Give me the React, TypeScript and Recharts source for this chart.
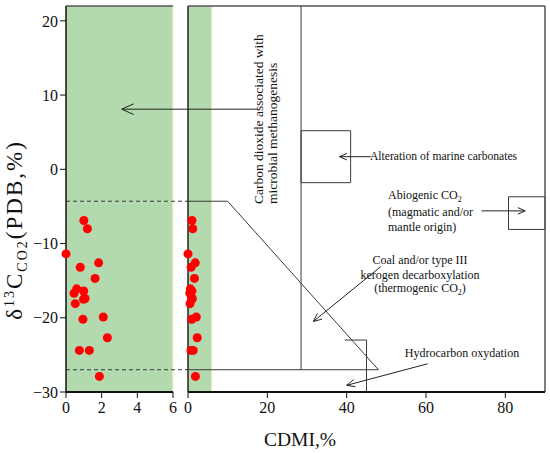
import React from "react"
import { ScatterChart, Scatter, XAxis, YAxis, ReferenceArea, ReferenceLine } from "recharts"

// measured samples: CDMI (%) and d13C of CO2 (PDB, ‰)
const cdmi = [0, 1.0, 1.2, 0.8, 1.83, 1.63, 0.45, 0.6, 0.52, 0.99, 1.07, 0.98, 0.95, 2.09, 2.32, 0.75, 1.31, 1.87]
const d13c = [-11.4, -6.9, -8.0, -13.2, -12.6, -14.7, -16.7, -16.1, -18.1, -16.4, -17.4, -17.5, -20.2, -19.9, -22.7, -24.4, -24.4, -27.9]

const leftTicks = [0, 2, 4, 6]
const rightTicks = [0, 20, 40, 60, 80]
const yTicks = [20, 10, 0, -10, -20, -30]

const yDomain = [-30, 22]
const leftDomain = [0, 6]
const rightDomain = [0, 90]

// zone boundaries (data units)
const microbialMax = 6
const upperBound = -4.3
const lowerBound = -27
const wedgeTop = 10
const wedgeBottom = 48
const thermoLine = 28.5
const marineBox = { x1: 28.5, x2: 41, y1: -1.8, y2: 5.2 }
const abioBox = { x1: 80.8, x2: 90, y1: -8.1, y2: -3.7 }
const hydroBracket = { x1: 39.5, x2: 45, y: -23 }

// annotation arrows [from, to]
const bigArrow = [{ x: 17.7, y: 8.1 }, { x: -16.7, y: 8.1 }]
const marineArrow = [{ x: 46.1, y: 1.7 }, { x: 38.2, y: 1.7 }]
const abioArrow = [{ x: 74, y: -5.6 }, { x: 85, y: -5.6 }]
const coalArrow = [{ x: 48.6, y: -13.1 }, { x: 31.6, y: -20.5 }]
const hydroArrow = [{ x: 60.4, y: -26.2 }, { x: 40, y: -29.1 }]

const points = cdmi.map((x, i) => ({ x, y: d13c[i] }))

const font = "Liberation Serif, Times New Roman, serif"
const green = "#b2daae"
const lineColor = "#3a3a3a"

const fmt = (v: number) => (v < 0 ? `\u2212${-v}` : `${v}`)

const makeArrow = (head: number) => (props: any) => {
  const { x1, y1, x2, y2 } = props
  const a = Math.atan2(y2 - y1, x2 - x1)
  const w = 0.42
  const h1x = x2 - head * Math.cos(a - w)
  const h1y = y2 - head * Math.sin(a - w)
  const h2x = x2 - head * Math.cos(a + w)
  const h2y = y2 - head * Math.sin(a + w)
  return (
    <g>
      <line x1={x1} y1={y1} x2={x2} y2={y2} stroke="#222" strokeWidth={1} />
      <polyline points={`${h1x},${h1y} ${x2},${y2} ${h2x},${h2y}`} fill="none" stroke="#222" strokeWidth={1} />
    </g>
  )
}

const tickStyle = { fontFamily: font, fontSize: 16, fill: "#111" }

export default function App() {
  return (
    <div style={{ position: "absolute", left: 0, top: 0, width: 550, height: 453, background: "#fff", fontFamily: font }}>
      <style>{".recharts-surface{overflow:visible}"}</style>

      <div style={{ position: "absolute", left: 0, top: 0 }}>
        <ScatterChart width={188} height={453} margin={{ top: 6, right: 15, bottom: 31, left: 0 }}>
          <XAxis
            type="number"
            dataKey="x"
            domain={leftDomain}
            ticks={leftTicks}
            height={30}
            tick={tickStyle}
            tickSize={6}
            tickMargin={4}
            tickLine={{ stroke: "#111" }}
            axisLine={{ stroke: "#111", strokeWidth: 2 }}
          />
          <YAxis
            type="number"
            dataKey="y"
            domain={yDomain}
            ticks={yTicks}
            width={66}
            tick={tickStyle}
            tickSize={6}
            tickFormatter={fmt}
            tickLine={{ stroke: "#111" }}
            axisLine={{ stroke: "#111", strokeWidth: 1.5 }}
          />
          <ReferenceArea x1={0} x2={microbialMax} y1={yDomain[0]} y2={yDomain[1]} fill={green} fillOpacity={1} stroke="none" />
          <ReferenceLine x={microbialMax} stroke="#eef4c6" strokeWidth={1.5} />
          <ReferenceLine y={yDomain[1]} stroke="#555" strokeWidth={1.5} />
          <ReferenceLine
            segment={[{ x: 0, y: upperBound }, { x: 6.84, y: upperBound }]}
            ifOverflow="visible"
            stroke={lineColor}
            strokeDasharray="4 3"
          />
          <ReferenceLine
            segment={[{ x: 0, y: lowerBound }, { x: 6.84, y: lowerBound }]}
            ifOverflow="visible"
            stroke={lineColor}
            strokeDasharray="4 3"
          />
          <Scatter data={points} fill="#ff0000" isAnimationActive={false} />
        </ScatterChart>
      </div>

      <div style={{ position: "absolute", left: 170, top: 0 }}>
        <ScatterChart width={380} height={453} margin={{ top: 6, right: 5, bottom: 31, left: 18 }}>
          <XAxis
            type="number"
            dataKey="x"
            domain={rightDomain}
            ticks={rightTicks}
            height={30}
            tick={tickStyle}
            tickSize={6}
            tickMargin={4}
            tickLine={{ stroke: "#111" }}
            axisLine={{ stroke: "#111", strokeWidth: 2 }}
          />
          <YAxis type="number" dataKey="y" domain={yDomain} hide />
          <ReferenceArea x1={0} x2={microbialMax} y1={yDomain[0]} y2={yDomain[1]} fill={green} fillOpacity={1} stroke="none" />
          <ReferenceLine x={microbialMax} stroke="#eef4c6" strokeWidth={1.5} />
          <ReferenceLine x={0} stroke="#222" strokeWidth={1.5} />
          <ReferenceLine y={yDomain[1]} stroke="#555" strokeWidth={1.5} />
          <ReferenceLine x={rightDomain[1]} stroke="#555" strokeWidth={1.5} />

          <ReferenceLine segment={[{ x: 0, y: upperBound }, { x: wedgeTop, y: upperBound }]} stroke={lineColor} />
          <ReferenceLine segment={[{ x: wedgeTop, y: upperBound }, { x: wedgeBottom, y: lowerBound }]} stroke={lineColor} />
          <ReferenceLine segment={[{ x: 0, y: lowerBound }, { x: wedgeBottom, y: lowerBound }]} stroke={lineColor} />
          <ReferenceLine segment={[{ x: thermoLine, y: yDomain[1] }, { x: thermoLine, y: lowerBound }]} stroke={lineColor} />
          <ReferenceArea {...marineBox} fill="none" stroke={lineColor} ifOverflow="visible" />
          <ReferenceArea {...abioBox} fill="none" stroke={lineColor} ifOverflow="visible" />
          <ReferenceLine
            segment={[{ x: hydroBracket.x1, y: hydroBracket.y }, { x: hydroBracket.x2, y: hydroBracket.y }]}
            stroke={lineColor}
          />
          <ReferenceLine
            segment={[{ x: hydroBracket.x2, y: hydroBracket.y }, { x: hydroBracket.x2, y: yDomain[0] }]}
            stroke={lineColor}
          />

          <ReferenceLine segment={bigArrow} ifOverflow="visible" shape={makeArrow(13)} />
          <ReferenceLine segment={marineArrow} shape={makeArrow(8)} />
          <ReferenceLine segment={abioArrow} shape={makeArrow(8)} />
          <ReferenceLine segment={coalArrow} shape={makeArrow(9)} />
          <ReferenceLine segment={hydroArrow} shape={makeArrow(9)} />

          <Scatter data={points} fill="#ff0000" isAnimationActive={false} />
        </ScatterChart>
      </div>

      <svg
        width={550}
        height={453}
        style={{ position: "absolute", left: 0, top: 0, pointerEvents: "none", fontFamily: font }}
        fill="#111"
      >
        <text transform="rotate(-90, 22, 230)" x={22} y={230} textAnchor="middle" fontSize={23} letterSpacing={2}>
          <tspan>δ</tspan>
          <tspan fontSize={14} dy={-8}>13</tspan>
          <tspan dy={8}>C</tspan>
          <tspan fontSize={14} dy={5}>CO2</tspan>
          <tspan dy={-5}>(PDB,%)</tspan>
        </text>
        <text x={300} y={446} textAnchor="middle" fontSize={19.5}>CDMI,%</text>

        <text transform="rotate(-90, 263, 204)" x={263} y={204} fontSize={13.5}>Carbon dioxide associated with</text>
        <text transform="rotate(-90, 277, 204)" x={277} y={204} fontSize={13.5}>microbial methanogenesis</text>

        <text x={370} y={160} fontSize={11.6}>Alteration of marine carbonates</text>

        <text x={388} y={199} fontSize={12}>
          Abiogenic CO<tspan fontSize={8} dy={3}>2</tspan>
        </text>
        <text x={388} y={216} fontSize={12}>(magmatic and/or</text>
        <text x={388} y={231} fontSize={12}>mantle origin)</text>

        <text x={420} y={264} textAnchor="middle" fontSize={12}>Coal and/or type III</text>
        <text x={420} y={279} textAnchor="middle" fontSize={12}>kerogen decarboxylation</text>
        <text x={420} y={292} textAnchor="middle" fontSize={12}>
          (thermogenic CO<tspan fontSize={8} dy={3}>2</tspan>
          <tspan dy={-3}>)</tspan>
        </text>

        <text x={462} y={357} textAnchor="middle" fontSize={12}>Hydrocarbon oxydation</text>
      </svg>
    </div>
  )
}
